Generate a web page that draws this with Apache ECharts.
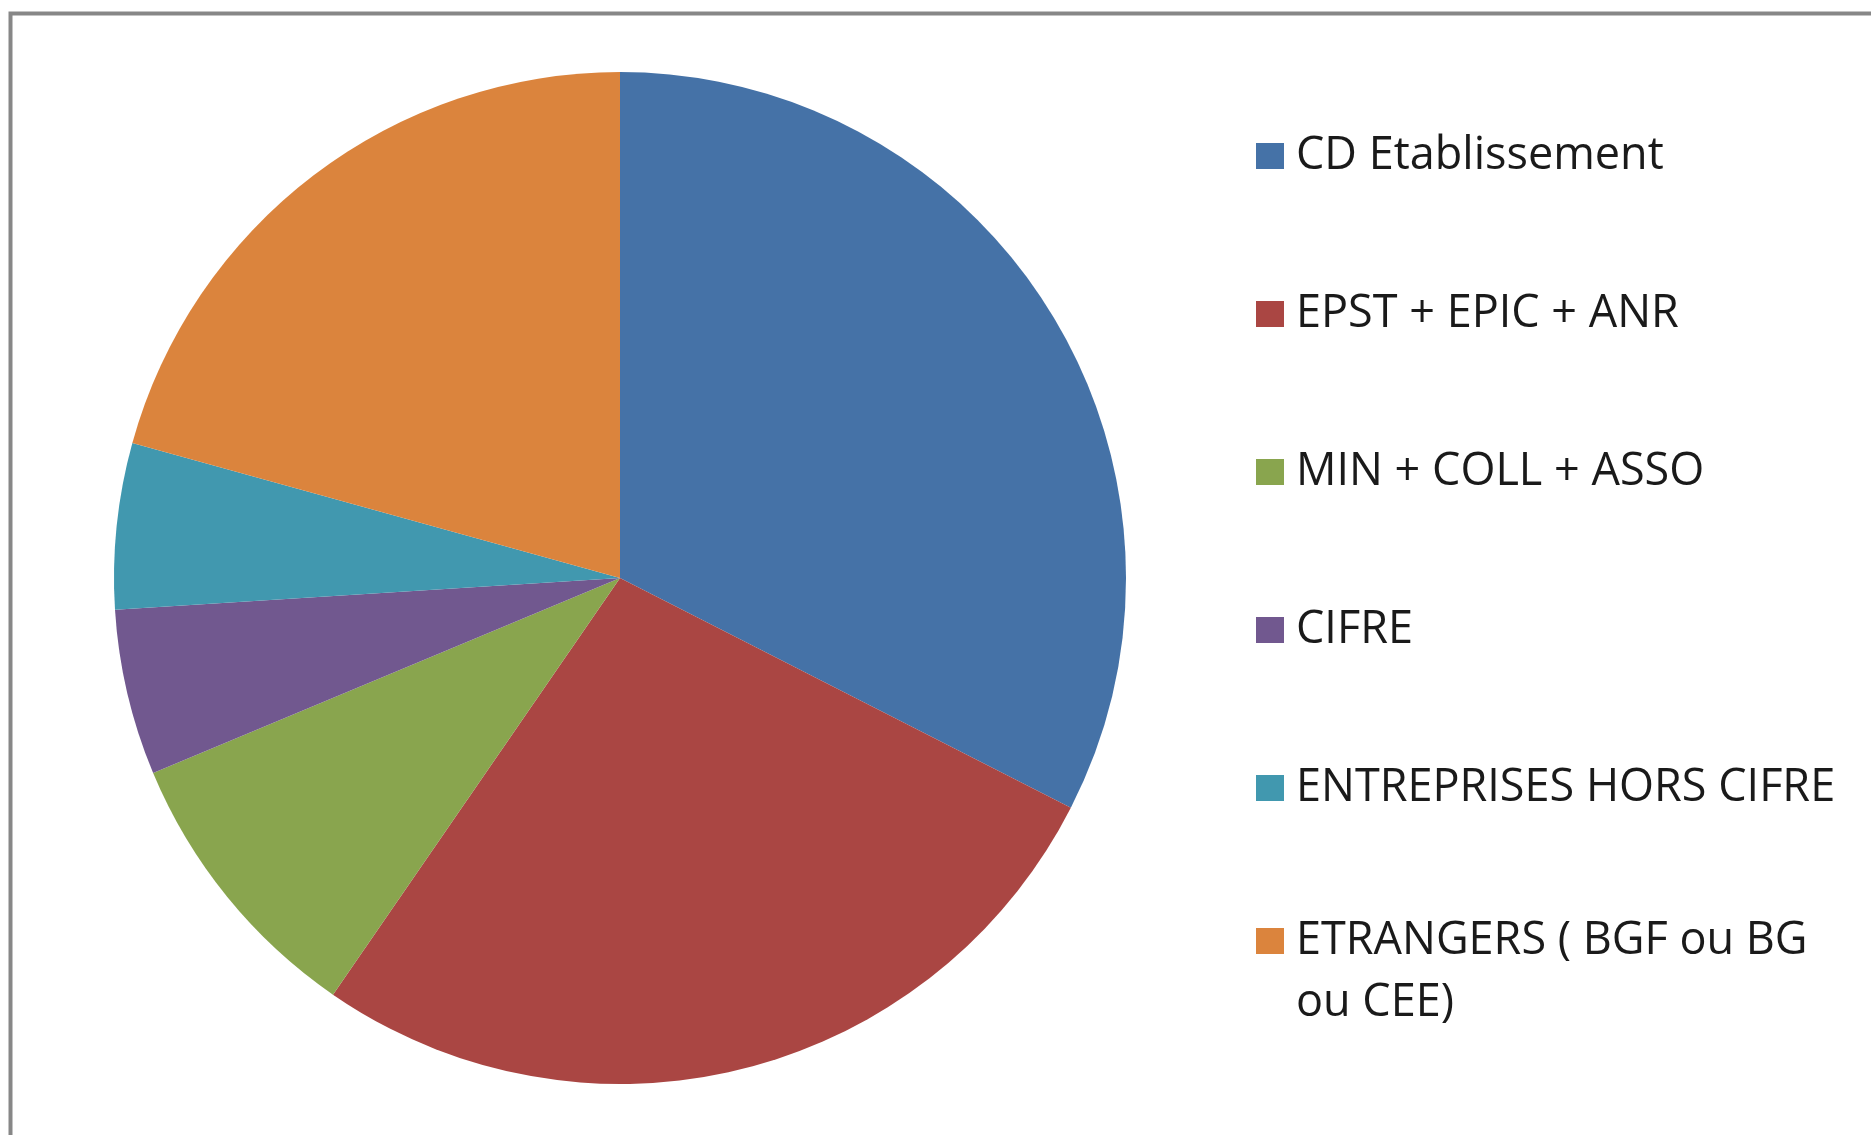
<!DOCTYPE html>
<html>
<head>
<meta charset="utf-8">
<script src="https://cdn.jsdelivr.net/npm/echarts@6/dist/echarts.min.js"></script>
<style>
    html, body { margin: 0; padding: 0; background: #fff; }
    #chart { width: 1871px; height: 1135px; }
</style>
</head>
<body>
<div id="chart"></div>
<script>
// Funding sources (share of theses, %)
const categories = [
    'CD Etablissement',
    'EPST + EPIC + ANR',
    'MIN + COLL + ASSO',
    'CIFRE',
    'ENTREPRISES HORS CIFRE',
    'ETRANGERS ( BGF ou BG ou CEE)'
];
const shares = [32.5, 27.1, 9.1, 5.3, 5.3, 20.7];
const sliceColors = ['#4572A7', '#AA4643', '#89A54E', '#71588F', '#4198AF', '#DB843D'];

const chart = echarts.init(document.getElementById('chart'));

const legendText = {
    fontFamily: 'Open Sans',
    fontSize: 45,
    color: '#1a1a1a',
    lineHeight: 62,
    padding: [0, 0, 0, 7]
};

const option = {
    animation: false,
    color: sliceColors,
    textStyle: {
        fontFamily: 'Open Sans'
    },
    graphic: [
        {
            // frame of the original chart area
            type: 'rect',
            shape: { x: 10.5, y: 13.5, width: 2000, height: 2000 },
            style: { fill: 'none', stroke: '#878787', lineWidth: 4 },
            silent: true
        }
    ],
    legend: [
        {
            orient: 'vertical',
            left: 1251,
            top: 120,
            itemWidth: 28,
            itemHeight: 26,
            itemGap: 96,
            icon: 'rect',
            data: categories.slice(0, 5),
            textStyle: legendText
        },
        {
            // last entry wraps on two lines; an empty first line keeps the icon on "ETRANGERS"
            orient: 'vertical',
            left: 1251,
            top: 843,
            itemWidth: 28,
            itemHeight: 26,
            icon: 'rect',
            data: categories.slice(5),
            formatter: (name) => '\n' + name.replace(' ou CEE)', '\nou CEE)'),
            textStyle: legendText
        }
    ],
    series: [
        {
            type: 'pie',
            center: [620, 578],
            radius: 506,
            startAngle: 90,
            clockwise: true,
            label: { show: false },
            labelLine: { show: false },
            itemStyle: { borderWidth: 0 },
            data: categories.map((name, i) => ({ name: name, value: shares[i] }))
        }
    ]
};

chart.setOption(option);
</script>
</body>
</html>
